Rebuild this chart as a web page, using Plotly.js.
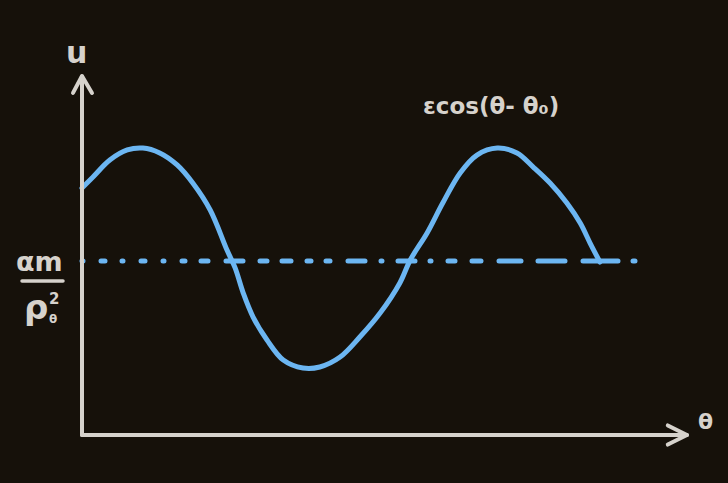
<!DOCTYPE html>
<html>
<head>
<meta charset="utf-8">
<script src="https://cdn.plot.ly/plotly-3.0.1.min.js"></script>
<style>
  html, body { margin: 0; padding: 0; background: #16110a; }
  #chart { width: 728px; height: 483px; }
</style>
</head>
<body>
<div id="chart"></div>
<script>
// Curve u(θ) = αm/pθ² + ε cos(θ − θ0) (θ in rad, u in units of αm/pθ²)
const theta = [0.00, 0.19, 0.48, 0.78, 1.05, 1.34, 1.64, 1.91, 2.21, 2.50, 2.64, 2.78, 2.95, 3.19, 3.47,
               3.81, 4.10, 4.45, 4.79, 5.14, 5.48, 5.66, 5.95, 6.22, 6.52, 6.81, 7.16, 7.50, 7.78, 8.07,
               8.36, 8.59, 8.76, 8.93];
const u     = [1.420, 1.483, 1.580, 1.638, 1.649, 1.621, 1.552, 1.448, 1.293, 1.063, 0.960, 0.816, 0.678, 0.546, 0.431,
               0.385, 0.391, 0.448, 0.563, 0.701, 0.874, 1.006, 1.161, 1.333, 1.506, 1.609, 1.649, 1.621, 1.540, 1.448,
               1.333, 1.218, 1.103, 0.994];
// Reference level αm/pθ²
const levelTheta = [0, 9.6];
const levelU = [1, 1];

// Labels
const axisLabelX = "θ";
const axisLabelY = "u";
const curveLabel = "εcos(θ- θ₀)";
const levelNum = "αm";
const levelDen = "ρ";
const levelSup = "2";
const levelSub = "θ";

const axisColor = "#d6d2cc";
const blue = "#6cb6f2";
const font = "DejaVu Sans";

const traces = [
  {
    x: levelTheta, y: levelU, mode: "lines", type: "scatter",
    line: { color: blue, width: 5,
      dash: "1px,18px,4px,17px,1px,18px,4px,18px,1px,18px,3px,16px,7px,18px,17px,17px,7px,15px,9px,16px,4px,15px,4px,18px,17px,16px,1px,16px,17px,15px,1px,17px,7px,17px,9px,18px,22px,17px,27px,18px,35px,15px,2px,300px" },
    hoverinfo: "skip", showlegend: false
  },
  {
    x: theta, y: u, mode: "lines", type: "scatter",
    line: { color: blue, width: 5, shape: "spline", smoothing: 1 },
    hoverinfo: "skip", showlegend: false
  }
];

const ax = { visible: false, showgrid: false, zeroline: false, fixedrange: true };
const txt = function (size) { return { family: font, size: size, color: axisColor, weight: "bold" }; };
const layout = {
  width: 728, height: 483,
  paper_bgcolor: "#16110a", plot_bgcolor: "#16110a",
  margin: { l: 0, r: 0, t: 0, b: 0, pad: 0 },
  xaxis: Object.assign({ range: [-82 / 58, 646 / 58] }, ax),
  yaxis: Object.assign({ range: [-48 / 174, 435 / 174] }, ax),
  shapes: [
    { type: "line", xref: "x", yref: "y", x0: 0, y0: 0, x1: 0, y1: 2.06, line: { color: axisColor, width: 4 } },
    { type: "line", xref: "x", yref: "y", x0: 0, y0: 0, x1: 10.43, y1: 0, line: { color: axisColor, width: 4 } },
    { type: "path", xref: "x", yref: "y", path: "M -0.155,1.966 L 0,2.063 L 0.172,1.966", line: { color: axisColor, width: 4 } },
    { type: "path", xref: "x", yref: "y", path: "M 10.10,0.055 L 10.43,0 L 10.10,-0.055", line: { color: axisColor, width: 4 } },
    { type: "line", xref: "paper", yref: "paper", x0: 22 / 728, x1: 63 / 728, y0: 1 - 281 / 483, y1: 1 - 281 / 483, line: { color: axisColor, width: 3.5 } }
  ],
  annotations: [
    { xref: "paper", yref: "paper", x: 76 / 728, y: 1 - 52 / 483, text: axisLabelY, showarrow: false, xanchor: "center", yanchor: "middle", font: txt(30) },
    { xref: "paper", yref: "paper", x: 705 / 728, y: 1 - 421 / 483, text: axisLabelX, showarrow: false, xanchor: "center", yanchor: "middle", font: txt(22) },
    { xref: "paper", yref: "paper", x: 491 / 728, y: 1 - 106 / 483, text: curveLabel, showarrow: false, xanchor: "center", yanchor: "middle", font: txt(23) },
    { xref: "paper", yref: "paper", x: 39 / 728, y: 1 - 261 / 483, text: levelNum, showarrow: false, xanchor: "center", yanchor: "middle", font: txt(27) },
    { xref: "paper", yref: "paper", x: 36 / 728, y: 1 - 307 / 483, text: levelDen, showarrow: false, xanchor: "center", yanchor: "middle", font: txt(34) },
    { xref: "paper", yref: "paper", x: 54 / 728, y: 1 - 299 / 483, text: levelSup, showarrow: false, xanchor: "center", yanchor: "middle", font: txt(15) },
    { xref: "paper", yref: "paper", x: 53 / 728, y: 1 - 319 / 483, text: levelSub, showarrow: false, xanchor: "center", yanchor: "middle", font: txt(12) }
  ],
  hovermode: false
};

Plotly.newPlot("chart", traces, layout, { displayModeBar: false, staticPlot: true }).then(function () {
  document.querySelectorAll(".scatterlayer .js-line").forEach(function (p) {
    p.style.strokeLinecap = "round";
    p.style.strokeLinejoin = "round";
  });
  document.querySelectorAll(".shapelayer path").forEach(function (p) {
    p.style.strokeLinecap = "round";
    p.style.strokeLinejoin = "round";
  });
});
</script>
</body>
</html>
